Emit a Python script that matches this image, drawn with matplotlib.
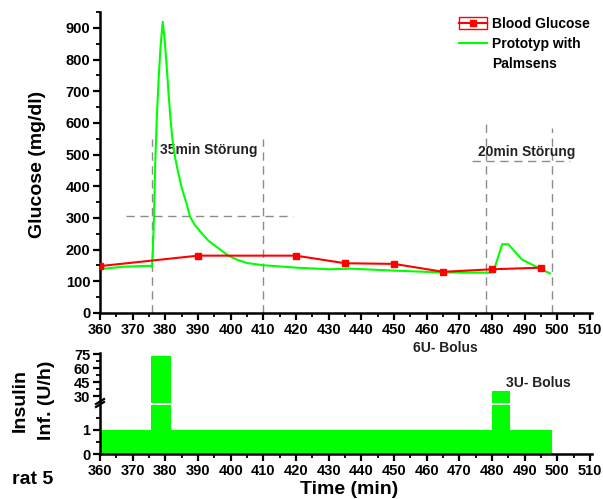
import matplotlib
matplotlib.use("Agg")
import matplotlib.pyplot as plt
from matplotlib.legend_handler import HandlerLine2D
from matplotlib.lines import Line2D
from matplotlib.patches import Rectangle
from matplotlib.ticker import MultipleLocator, FixedLocator

plt.rcParams['font.family'] = ['Liberation Sans', 'DejaVu Sans']
plt.rcParams['font.weight'] = 'bold'

# ---- data -------------------------------------------------------------
bg_time = [360, 390, 420, 435, 450, 465, 480, 495]
bg_glucose = [148, 181, 181, 157, 155, 130, 138, 143]

sensor_time = [360, 361.5, 367, 375.3, 375.9, 376.2, 376.5, 376.9, 377.4, 378.0,
               378.6, 379.2, 379.8, 380.4, 381.0, 381.6, 382.2, 383.0, 383.8, 385.0,
               386.5, 387.5, 389.0, 390.6, 393.2, 397.2, 399.3, 402.0, 404.9, 409.7,
               420.2, 430.4, 436.5, 451.8, 465.1, 479.4, 480.9, 483.1, 485.0, 489.1,
               492.6, 497.7]
sensor_glucose = [148, 140, 146, 149, 146, 200, 300, 470, 620, 750,
                  850, 919, 860, 780, 690, 610, 545, 490, 450, 395,
                  345, 305, 278, 258, 228, 197, 181, 168, 158, 151,
                  143, 138, 140, 133, 128, 127, 146, 217, 217, 169,
                  151, 125]

basal_start, basal_end, basal_rate = 360, 498.5, 1
bolus_start = [375.6, 480]
bolus_end = [381.7, 485.4]
bolus_rate = [73.5, 36]
bolus_labels = ["6U- Bolus", "3U- Bolus"]

disturb_start = [376, 478]
disturb_end = [410, 498.2]
disturb_top = [[550, 550], [600, 585]]
disturb_hline = [(368, 419, 305), (474, 504, 480)]
disturb_labels = ["35min Störung", "20min Störung"]
disturb_label_pos = [(393.2, 514), (490.5, 509)]

# ---- figure -----------------------------------------------------------
W, H = 603, 499
fig = plt.figure(figsize=(W / 100, H / 100), dpi=100)


def box(l, t, r, b):
    return [l / W, 1 - b / H, (r - l) / W, (b - t) / H]


RED = '#ff0000'
GREEN = '#00ff00'
GREY = '#8c8c8c'
TICK_FS = 10.5
LABEL_FS = 14
NOTE_FS = 10


def style_axes(ax):
    for s in ('top', 'right'):
        ax.spines[s].set_visible(False)
    for s in ('left', 'bottom'):
        ax.spines[s].set_linewidth(1.8)
    ax.tick_params(which='major', direction='out', length=5, width=1.6,
                   labelsize=TICK_FS, pad=2)
    ax.tick_params(which='minor', direction='out', length=3, width=1.3)
    ax.set_facecolor('none')


# top panel: glucose
ax = fig.add_axes(box(100, 12, 591.7, 313))
style_axes(ax)
ax.set_xlim(360, 510.5)
ax.set_ylim(0, 950)
ax.xaxis.set_major_locator(MultipleLocator(10))
ax.xaxis.set_minor_locator(MultipleLocator(5))
ax.yaxis.set_major_locator(FixedLocator(range(0, 901, 100)))
ax.yaxis.set_minor_locator(FixedLocator(range(50, 951, 100)))

for xs, xe, tops in zip(disturb_start, disturb_end, disturb_top):
    ax.plot([xs, xs], [0, tops[0]], color=GREY, lw=1, dashes=(6, 4))
    ax.plot([xe, xe], [0, tops[1]], color=GREY, lw=1, dashes=(6, 4))
for x0, x1, y in disturb_hline:
    ax.plot([x0, x1], [y, y], color=GREY, lw=1, dashes=(6, 4))
for txt, (tx, ty) in zip(disturb_labels, disturb_label_pos):
    ax.text(tx, ty, txt, ha='center', va='center', fontsize=NOTE_FS,
            fontweight='bold', color='#222222')

l_bg, = ax.plot(bg_time, bg_glucose, color=RED, lw=1.5, marker='s',
                markersize=5, markeredgecolor=RED, label='Blood Glucose', zorder=4)
l_sn, = ax.plot(sensor_time, sensor_glucose, color=GREEN, lw=1.5,
                label='Prototyp with', zorder=3)
# continuation line of the second legend label (no symbol of its own)
l_cont = Line2D([], [], color='none', lw=0, label='Palmsens')


class BoxedLineHandler(HandlerLine2D):
    def create_artists(self, legend, orig_handle, xdescent, ydescent,
                       width, height, fontsize, trans):
        arts = super().create_artists(legend, orig_handle, xdescent, ydescent,
                                      width, height, fontsize, trans)
        rect = Rectangle((-xdescent, -ydescent - 0.1 * height), width,
                         height * 1.2, fill=False, edgecolor=RED, lw=1,
                         transform=trans)
        return [rect] + list(arts)


leg = ax.legend(handles=[l_bg, l_sn, l_cont], loc='upper left',
                bbox_to_anchor=(452 / W, 1 - 10 / H), bbox_transform=fig.transFigure,
                frameon=False, fontsize=NOTE_FS, handlelength=2.0,
                handletextpad=0.4, labelspacing=0.45, borderpad=0,
                handler_map={l_bg: BoxedLineHandler()})
for t in leg.get_texts():
    t.set_fontweight('bold')

# bottom panel: insulin infusion, broken y axis
ax_lo = fig.add_axes(box(100, 404.5, 591.7, 454))
ax_hi = fig.add_axes(box(100, 353, 591.7, 402.5))
for a in (ax_lo, ax_hi):
    style_axes(a)
    a.set_xlim(360, 510.5)
    a.bar(basal_start, basal_rate, width=basal_end - basal_start, align='edge',
          color=GREEN, linewidth=0)
    for bs, be, br in zip(bolus_start, bolus_end, bolus_rate):
        a.bar(bs, br, width=be - bs, align='edge', color=GREEN, linewidth=0)

ax_lo.set_ylim(0, 2.06)
ax_lo.yaxis.set_major_locator(FixedLocator([0, 1]))
ax_lo.yaxis.set_minor_locator(FixedLocator([0.5, 1.5]))
ax_lo.xaxis.set_major_locator(MultipleLocator(10))
ax_lo.xaxis.set_minor_locator(MultipleLocator(5))

ax_hi.set_ylim(23.6, 76.3)
ax_hi.yaxis.set_major_locator(FixedLocator([30, 45, 60, 75]))
ax_hi.yaxis.set_minor_locator(FixedLocator([37.5, 52.5, 67.5]))
ax_hi.spines['bottom'].set_visible(False)
ax_hi.tick_params(axis='x', which='both', bottom=False, labelbottom=False)

# break marks on the left spine
for dy in (-1.5, 1.5):
    fig.add_artist(Line2D([96 / W, 104 / W],
                          [1 - (405.5 + dy) / H, 1 - (400.5 + dy) / H],
                          color='black', lw=1.6, transform=fig.transFigure))

for a in (ax, ax_lo, ax_hi):
    for lab in a.get_xticklabels() + a.get_yticklabels():
        lab.set_fontweight('bold')

# bolus annotations
fig.text(445 / W, 1 - 348 / H, bolus_labels[0], ha='center', va='center',
         fontsize=NOTE_FS, fontweight='bold', color='#222222')
fig.text(538.5 / W, 1 - 383 / H, bolus_labels[1], ha='center', va='center',
         fontsize=NOTE_FS, fontweight='bold', color='#222222')

# axis titles
fig.text(38 / W, 1 - 164 / H, 'Glucose (mg/dl)', rotation=90, ha='center',
         va='center', fontsize=LABEL_FS, fontweight='bold')
fig.text(20 / W, 1 - 400 / H, 'Insulin', rotation=90, ha='center',
         va='center', fontsize=LABEL_FS, fontweight='bold')
fig.text(46.7 / W, 1 - 400 / H, 'Inf. (U/h)', rotation=90, ha='center',
         va='center', fontsize=LABEL_FS, fontweight='bold')
fig.text(349.5 / W, 1 - 490 / H, 'Time (min)', ha='center', va='center',
         fontsize=LABEL_FS, fontweight='bold')
fig.text(12.5 / W, 1 - 480 / H, 'rat 5', ha='left', va='center',
         fontsize=LABEL_FS, fontweight='bold')

fig.savefig('out.png', dpi=100, facecolor='white')
